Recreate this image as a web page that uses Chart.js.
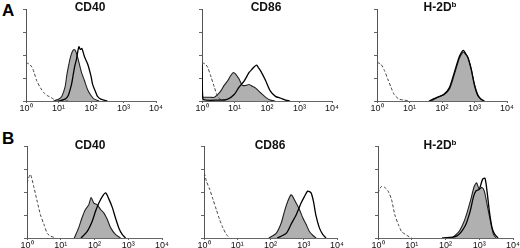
<!DOCTYPE html>
<html>
<head>
<meta charset="utf-8">
<script src="https://cdn.jsdelivr.net/npm/chart.js@4.4.1/dist/chart.umd.min.js"></script>
<style>
  body { margin: 0; background: #fff; width: 520px; height: 248px; position: relative; overflow: hidden;
         font-family: "Liberation Sans", Arial, sans-serif; }
  canvas { position: absolute; }
  .ttl { position: absolute; font-weight: bold; font-size: 12px; color: #111; transform: translateX(-50%); white-space: nowrap; line-height: 1; }
  .ttl sup { font-size: 8px; vertical-align: 4px; line-height: 0; }
  .lab { position: absolute; font-weight: bold; font-size: 17px; line-height: 1; color: #000; }
</style>
</head>
<body>
<div class="lab" style="left:2px;top:2px">A</div>
<div class="lab" style="left:2px;top:130px">B</div>

<script>
// x = log10 fluorescence (decades), y = % of axis height
const decadeLabels = ["10⁰", "10¹", "10²", "10³", "10⁴"];

// row A
const aCd40Iso = [[0,42],[0.1,40],[0.18,37],[0.25,31],[0.33,22],[0.45,14],[0.55,9],[0.65,6],[0.76,4],[0.85,2],[0.96,1],[1.1,0.5],[1.3,0]];
const aCd40Gray = [[0.85,0],[1.0,2],[1.1,5],[1.2,15],[1.26,29],[1.32,40],[1.37,48],[1.43,54],[1.48,56],[1.53,54],[1.6,46],[1.7,32],[1.8,22],[1.9,12],[2.0,6],[2.1,2],[2.25,0]];
const aCd40Open = [[1.0,0],[1.2,2],[1.3,6],[1.4,18],[1.45,28],[1.5,38],[1.55,45],[1.6,55],[1.63,59],[1.67,56],[1.72,57],[1.8,48],[1.9,40],[2.0,27],[2.05,18],[2.15,9],[2.2,5],[2.3,2],[2.4,1],[2.5,0]];

const aCd86Iso = [[0,42],[0.1,40],[0.17,37],[0.28,26],[0.38,15],[0.48,5],[0.56,2],[0.63,1],[0.75,0]];
const aCd86Gray = [[0,4],[0.1,4],[0.25,4],[0.38,4],[0.48,7],[0.58,11],[0.68,17],[0.79,22],[0.89,28],[0.97,31],[1.04,29],[1.1,26],[1.14,24],[1.24,17],[1.35,17],[1.45,18],[1.55,16],[1.65,14],[1.8,9],[1.96,4],[2.1,1],[2.25,0]];
const aCd86Open = [[0,40],[0.03,2],[0.5,1],[0.79,2],[0.99,7],[1.14,15],[1.3,22],[1.45,31],[1.55,35],[1.6,37],[1.68,39],[1.74,36],[1.8,33],[1.96,22],[2.1,11],[2.26,5],[2.42,3],[2.57,1],[2.7,0]];

const aH2dIso = [[0,42],[0.12,40],[0.23,33],[0.33,24],[0.43,15],[0.53,7],[0.68,2],[0.84,1],[1.0,0]];
const aH2dGray = [[1.66,0],[1.87,4],[2.07,7],[2.23,13],[2.38,29],[2.53,46],[2.62,52],[2.67,53],[2.72,51],[2.79,48],[2.9,35],[3.0,18],[3.1,7],[3.2,2],[3.3,0]];
const aH2dOpen = [[1.6,0],[1.85,4],[2.05,7],[2.22,14],[2.37,30],[2.52,47],[2.6,53],[2.66,55],[2.72,52],[2.8,47],[2.9,34],[3.0,17],[3.1,6],[3.2,2],[3.3,0]];

// row B
const bCd40Iso = [[0,60],[0.1,69],[0.2,56],[0.3,40],[0.4,25],[0.5,15],[0.6,5],[0.7,2],[0.85,0]];
const bCd40Gray = [[1.4,0],[1.53,11],[1.63,22],[1.73,31],[1.83,36],[1.9,44],[1.98,38],[2.08,36],[2.18,31],[2.28,27],[2.38,20],[2.48,11],[2.62,4],[2.77,0]];
const bCd40Open = [[1.6,0],[1.78,7],[1.93,18],[2.03,29],[2.13,38],[2.23,45],[2.33,49],[2.43,42],[2.53,33],[2.62,22],[2.72,11],[2.82,4],[2.92,0]];

const bCd86Iso = [[0,62],[0.02,69],[0.07,62],[0.17,53],[0.27,42],[0.37,31],[0.47,20],[0.57,11],[0.67,4],[0.77,0]];
const bCd86Gray = [[1.95,0],[2.17,5],[2.32,16],[2.42,29],[2.52,40],[2.62,47],[2.67,45],[2.77,38],[2.87,31],[2.97,22],[3.07,15],[3.17,7],[3.27,3],[3.37,0]];
const bCd86Open = [[2.2,0],[2.47,5],[2.62,15],[2.77,25],[2.92,38],[3.02,45],[3.12,51],[3.22,49],[3.29,40],[3.37,24],[3.47,11],[3.57,4],[3.67,0]];

const bH2dIso = [[0,49],[0.1,56],[0.2,55],[0.3,51],[0.4,42],[0.5,25],[0.6,15],[0.7,7],[0.85,3],[1.0,0]];
const bH2dGray = [[2.2,0],[2.4,7],[2.55,18],[2.65,29],[2.75,42],[2.85,56],[2.92,60],[3.0,53],[3.08,55],[3.15,51],[3.25,33],[3.35,15],[3.42,4],[3.5,0]];
const bH2dOpen = [[1.9,0],[2.33,2],[2.58,13],[2.73,29],[2.83,45],[2.9,51],[3.0,53],[3.1,64],[3.17,65],[3.23,51],[3.3,29],[3.38,11],[3.46,4],[3.56,0]];

// plot-area boxes in page pixels: left, right, top, bottom
const panels = [
  { title: "CD40", box: [26, 156, 9, 101], iso: aCd40Iso, gray: aCd40Gray, open: aCd40Open },
  { title: "CD86", box: [202, 332, 9, 101], iso: aCd86Iso, gray: aCd86Gray, open: aCd86Open },
  { title: "H-2D<sup>b</sup>", box: [377, 507, 9, 101], iso: aH2dIso, gray: aH2dGray, open: aH2dOpen },
  { title: "CD40", box: [27, 162, 146, 238], iso: bCd40Iso, gray: bCd40Gray, open: bCd40Open },
  { title: "CD86", box: [204, 337, 146, 238], iso: bCd86Iso, gray: bCd86Gray, open: bCd86Open },
  { title: "H-2D<sup>b</sup>", box: [378, 513, 146, 238], iso: bH2dIso, gray: bH2dGray, open: bH2dOpen },
];

const titleTops = [1, 1, 1, 139, 139, 139];
const titleCenters = [90, 266, 440, 90, 270, 440];

panels.forEach((p, i) => {
  const [l, r, t, b] = p.box;
  const canvas = document.createElement("canvas");
  const w = r - l + 20 + 12;
  const h = b - t + 4 + 14;
  canvas.width = w;
  canvas.height = h;
  canvas.style.left = (l - 20) + "px";
  canvas.style.top = (t - 4) + "px";
  canvas.style.width = w + "px";
  canvas.style.height = h + "px";
  document.body.appendChild(canvas);

  const ttl = document.createElement("div");
  ttl.className = "ttl";
  ttl.style.left = titleCenters[i] + "px";
  ttl.style.top = titleTops[i] + "px";
  ttl.innerHTML = p.title;
  document.body.appendChild(ttl);

  new Chart(canvas, {
    type: "line",
    data: {
      datasets: [
        { data: p.open, borderColor: "#000", borderWidth: 1.3, fill: false },
        { data: p.iso, borderColor: "#444", borderWidth: 1, borderDash: [3, 2], fill: false },
        { data: p.gray, borderColor: "#222", borderWidth: 1.1, backgroundColor: "#b0b0b0", fill: "origin" },
      ],
    },
    options: {
      responsive: false,
      animation: false,
      events: [],
      elements: { point: { radius: 0 }, line: { tension: 0.25 } },
      layout: { padding: { left: 16, top: 4, right: 12, bottom: 0 } },
      plugins: { legend: { display: false }, tooltip: { enabled: false } },
      scales: {
        x: {
          type: "linear",
          min: 0,
          max: 4,
          afterFit: (s) => { s.height = 14; },
          grid: { drawOnChartArea: false, tickLength: 2, color: "#666" },
          border: { color: "#666" },
          ticks: {
            stepSize: 1,
            padding: 0,
            autoSkip: false,
            maxRotation: 0,
            color: "#111",
            font: { family: "'Liberation Sans', Arial, sans-serif", size: 9 },
            callback: (v) => decadeLabels[v],
          },
        },
        y: {
          min: 0,
          max: 100,
          afterFit: (s) => { s.width = 4; },
          grid: { drawOnChartArea: false, tickLength: 3, color: "#666" },
          border: { color: "#555" },
          ticks: { stepSize: 25, display: false },
        },
      },
    },
  });
});
</script>
</body>
</html>
